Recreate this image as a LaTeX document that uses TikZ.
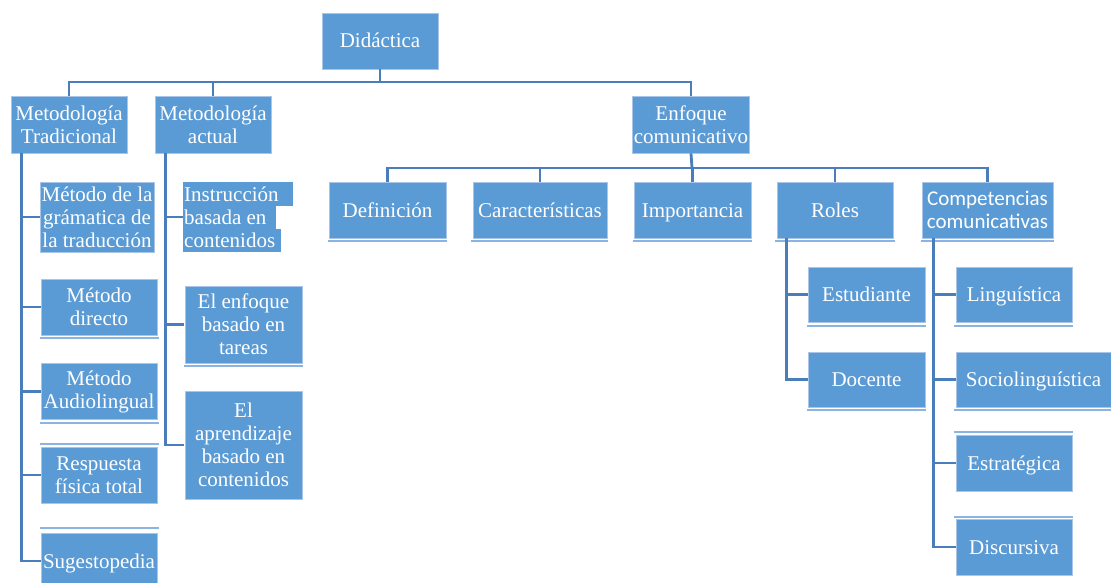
\documentclass[tikz,border=0pt]{standalone}
\usepackage{fontspec}
\setmainfont{Liberation Serif}
\newfontfamily\calfont{Carlito}
\usetikzlibrary{calc}
\definecolor{boxblue}{HTML}{5B9BD5}
\definecolor{rimblue}{HTML}{A9C6E8}
\definecolor{connblue}{HTML}{4A7EBB}
\definecolor{ulblue}{HTML}{8DB3E2}
\begin{document}
\begin{tikzpicture}[x=1pt,y=-1pt,
  box/.style={rectangle, fill=boxblue, draw=rimblue, line width=0.8pt, text=white,
    align=center, inner sep=1pt,
    font=\fontsize{21}{23}\selectfont},
  one/.style={text height=15pt, text depth=1pt},
  hl/.style={fill=boxblue},
  conn/.style={draw=connblue, line width=2.8pt},
  ul/.style={draw=ulblue, line width=1.4pt}]
\useasboundingbox (0,0) rectangle (1111,583);
\clip (0,0) rectangle (1111,583);
% level 0/1
\node[box, one, minimum width=116pt, minimum height=56pt] (did) at (380,41) {Didáctica};
\node[box, minimum width=116pt, minimum height=57pt] (mt) at (69,124.5) {Metodología\\Tradicional};
\node[box, minimum width=116pt, minimum height=57pt] (ma) at (213,124.5) {Metodología\\actual};
\node[box, minimum width=116pt, minimum height=57pt] (ec) at (691,124.5) {Enfoque\\comunicativo};
% enfoque children
\node[box, one, minimum width=117pt, minimum height=56pt] (def) at (387.5,210) {Definición};
\node[box, one, minimum width=134pt, minimum height=56pt] (car) at (540,210) {Características};
\node[box, one, minimum width=117pt, minimum height=56pt] (imp) at (692.5,210) {Importancia};
\node[box, one, minimum width=116pt, minimum height=56pt] (rol) at (835,210) {Roles};
\node[box, minimum width=131pt, minimum height=56pt, font=\calfont\fontsize{21}{23}\selectfont] (comp) at (987.5,210) {Competencias\\comunicativas};
\node[box, one, minimum width=117pt, minimum height=55pt] (est) at (866.5,294.5) {Estudiante};
\node[box, one, minimum width=117pt, minimum height=55pt] (doc) at (866.5,379.5) {Docente};
\node[box, one, minimum width=116pt, minimum height=55pt] (lin) at (1014,294.5) {Linguística};
\node[box, one, minimum width=155pt, minimum height=55pt] (soc) at (1033.5,379.5) {Sociolinguística};
\node[box, one, minimum width=116pt, minimum height=56pt] (estr) at (1014,463) {Estratégica};
\node[box, one, minimum width=116pt, minimum height=56pt] (disc) at (1014,547) {Discursiva};
% tradicional children
\node[box, minimum width=114pt, minimum height=70pt] (gram) at (97,217) {Método de la\\grámatica de\\la traducción};
\node[box, minimum width=116pt, minimum height=56pt] (dir) at (99,307) {Método\\directo};
\node[box, minimum width=116pt, minimum height=56pt] (aud) at (99,391.5) {Método\\Audiolingual};
\node[box, minimum width=116pt, minimum height=56pt] (resp) at (99,475) {Respuesta\\física total};
\node[box, one, minimum width=116pt, minimum height=56pt] (sug) at (99,561) {Sugestopedia};
% actual children
\fill[hl] (183,182) rectangle (293,206);
\fill[hl] (183,206) rectangle (276,229);
\fill[hl] (183,229) rectangle (281,252);
\node[text=white, align=left, inner sep=0pt, anchor=west, font=\fontsize{21}{23}\selectfont] (ins) at (184,217) {Instrucción\\basada en\\contenidos};
\node[box, minimum width=117pt, minimum height=77pt] (tar) at (243.5,324.5) {El enfoque\\basado en\\tareas};
\node[box, minimum width=117pt, minimum height=108pt] (apr) at (243.5,445) {El\\aprendizaje\\basado en\\contenidos};
% underlines
\draw[ul] (328,241) -- (447,241);
\draw[ul] (471,241) -- (608,241);
\draw[ul] (633,241) -- (752,241);
\draw[ul] (775,241) -- (895,241);
\draw[ul] (921,241) -- (1054,241);
\draw[ul] (807,326) -- (926,326);
\draw[ul] (807,410) -- (926,410);
\draw[ul] (954,326) -- (1073,326);
\draw[ul] (954,410) -- (1111,410);
\draw[ul] (954,432) -- (1073,432);
\draw[ul] (954,517) -- (1073,517);
\draw[ul] (40,338) -- (159,338);
\draw[ul] (40,423) -- (159,423);
\draw[ul] (40,444) -- (159,444);
\draw[ul] (40,528) -- (159,528);
\draw[ul] (184,366) -- (303,366);
% connectors level 1
\coordinate (b1) at (380,82);
\draw[conn] (did.south) -- (b1);
\draw[conn] (b1) -| (mt.north);
\draw[conn] (b1) -| (ma.north);
\draw[conn] (b1) -| (ec.north);
% connectors enfoque
\coordinate (b2) at (692,168);
\draw[conn] (ec.south) -- (b2);
\foreach \n in {def,car,imp,rol,comp} \draw[conn] (b2) -| (\n.north);
% vertical trunks
\coordinate (mtv) at ($(mt.south west)+(11,0)$);
\foreach \n in {gram,dir,aud,resp,sug} \draw[conn] (mtv) |- (\n.west);
\coordinate (mav) at ($(ma.south west)+(11,0)$);
\foreach \n in {ins,tar,apr} \draw[conn] (mav) |- ($(\n.west)+(-1,0)$);
\coordinate (rov) at ($(rol.south west)+(10,0)$);
\foreach \n in {est,doc} \draw[conn] (rov) |- (\n.west);
\coordinate (cov) at ($(comp.south west)+(12,0)$);
\foreach \n in {lin,soc,estr,disc} \draw[conn] (cov) |- (\n.west);
\end{tikzpicture}
\end{document}
